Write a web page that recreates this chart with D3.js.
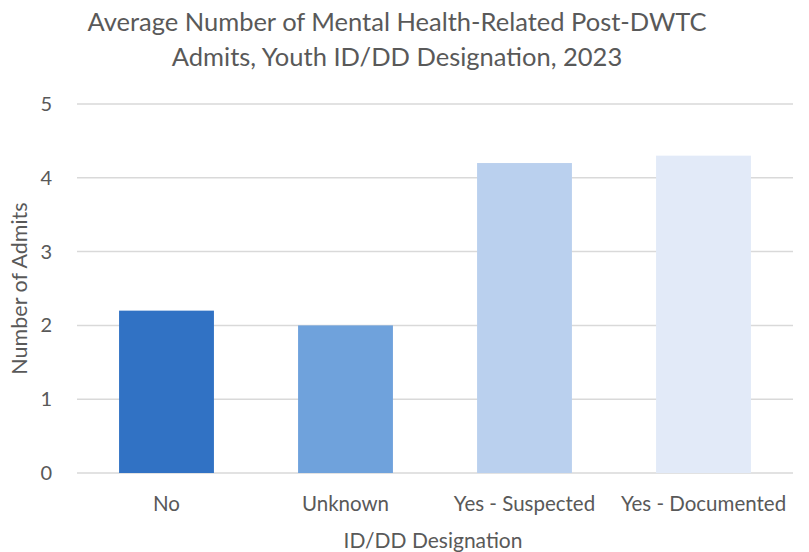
<!DOCTYPE html>
<html>
<head>
<meta charset="utf-8">
<script src="https://cdn.jsdelivr.net/npm/d3@7"></script>
<style>
  body { margin: 0; background: #fff; }
  svg text { font-family: Lato, "Open Sans", sans-serif; fill: #595959; }
</style>
</head>
<body>
<div id="chart"></div>
<script>
// categories and values
var categories = ['No', 'Unknown', 'Yes - Suspected', 'Yes - Documented'];
var values = [2.2, 2.0, 4.2, 4.3];
var barColors = ['#3172C4', '#6FA2DC', '#BAD0EE', '#E2EAF8'];
var yTicks = [0, 1, 2, 3, 4, 5];
var titleLines = ['Average Number of Mental Health-Related Post-DWTC', 'Admits, Youth ID/DD Designation, 2023'];

var W = 809, H = 552;
var margin = { top: 104, right: 16, bottom: 79, left: 77 },
  width = W - margin.left - margin.right,
  height = H - margin.top - margin.bottom;

var svg = d3.select('#chart')
  .append('svg')
  .attr('width', W)
  .attr('height', H);

var g = svg.append('g')
  .attr('transform', 'translate(' + margin.left + ',' + margin.top + ')');

var xScale = d3.scaleBand()
  .domain(categories)
  .range([0, width])
  .paddingInner(0.47)
  .paddingOuter(0.235);

var yScale = d3.scaleLinear()
  .domain([0, 5])
  .range([height, 0]);

// gridlines
g.selectAll('.grid')
  .data(yTicks)
  .enter()
  .append('line')
  .attr('x1', 0)
  .attr('x2', width)
  .attr('y1', function (d) { return yScale(d); })
  .attr('y2', function (d) { return yScale(d); })
  .attr('stroke', '#d9d9d9')
  .attr('stroke-width', 1.5);

// y axis labels
var yAxis = g.append('g')
  .call(d3.axisLeft(yScale).tickValues(yTicks).tickSize(0).tickPadding(25).tickFormat(d3.format('d')));
yAxis.select('.domain').remove();
yAxis.selectAll('text')
  .style('font-size', '20px')
  .style('font-family', 'Lato, sans-serif')
  .attr('fill', '#595959');

// bars
g.selectAll('.bar')
  .data(values)
  .enter()
  .append('rect')
  .attr('x', function (d, i) { return xScale(categories[i]); })
  .attr('width', xScale.bandwidth())
  .attr('y', function (d) { return yScale(d); })
  .attr('height', function (d) { return height - yScale(d); })
  .attr('fill', function (d, i) { return barColors[i]; });

// x axis labels
var xAxis = g.append('g')
  .attr('transform', 'translate(0,' + height + ')')
  .call(d3.axisBottom(xScale).tickSize(0).tickPadding(23));
xAxis.select('.domain').remove();
xAxis.selectAll('text')
  .style('font-size', '20.5px')
  .style('font-family', 'Lato, sans-serif')
  .attr('fill', '#595959');

// axis titles
svg.append('text')
  .attr('x', margin.left + width / 2 - 2)
  .attr('y', 548)
  .style('text-anchor', 'middle')
  .style('font-size', '21px')
  .text('ID/DD Designation');

svg.append('text')
  .attr('transform', 'translate(27,' + (margin.top + height / 2) + ') rotate(-90)')
  .style('text-anchor', 'middle')
  .style('font-size', '21.5px')
  .text('Number of Admits');

// title
svg.selectAll('.title')
  .data(titleLines)
  .enter()
  .append('text')
  .attr('x', 397)
  .attr('y', function (d, i) { return 31 + i * 35; })
  .style('text-anchor', 'middle')
  .style('font-size', '25.5px')
  .text(function (d) { return d; });
</script>
</body>
</html>
